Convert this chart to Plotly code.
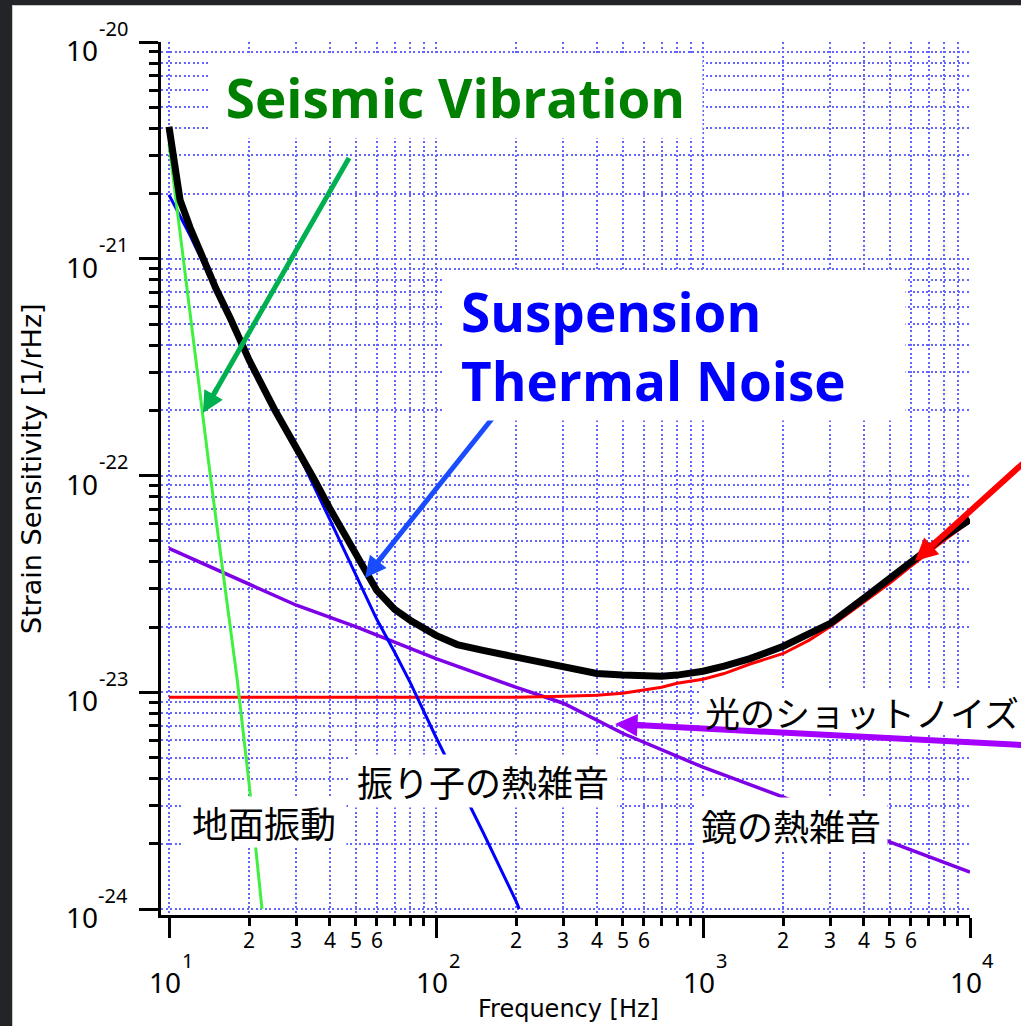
import math
import plotly.graph_objects as go

# ---- noise budget: frequency [Hz] vs strain sensitivity [1/rHz] ----
total_freq = [10, 10.5, 11, 12, 13, 15, 17, 20, 25, 30, 35, 40, 50, 60, 70, 80, 100, 120, 150,
              200, 250, 300, 400, 500, 600, 700, 800, 1000, 1200, 1500, 2000, 2500, 3000,
              4000, 5000, 6000, 7000, 8000, 10000]
total_asd = [4.06e-21, 2.57e-21, 1.87e-21, 1.39e-21, 1.10e-21, 7.27e-22, 5.29e-22, 3.39e-22,
             1.99e-22, 1.35e-22, 9.59e-23, 7.05e-23, 4.28e-23, 2.95e-23, 2.41e-23, 2.15e-23,
             1.83e-23, 1.66e-23, 1.56e-23, 1.45e-23, 1.36e-23, 1.29e-23, 1.22e-23, 1.20e-23,
             1.185e-23, 1.185e-23, 1.20e-23, 1.25e-23, 1.32e-23, 1.43e-23, 1.63e-23, 1.87e-23,
             2.08e-23, 2.71e-23, 3.32e-23, 3.97e-23, 4.61e-23, 5.23e-23, 6.27e-23]

shot_freq = [10, 20, 50, 100, 200, 300, 400, 500, 600, 700, 800, 1000, 1200, 1500, 2000,
             2500, 3000, 4000, 5000, 6000, 7000, 8000, 10000]
shot_asd = [9.48e-24, 9.48e-24, 9.48e-24, 9.48e-24, 9.48e-24, 9.59e-24, 9.69e-24, 9.89e-24,
            1.02e-23, 1.054e-23, 1.10e-23, 1.148e-23, 1.22e-23, 1.35e-23, 1.51e-23, 1.74e-23,
            2.01e-23, 2.60e-23, 3.18e-23, 3.81e-23, 4.42e-23, 5.02e-23, 6.14e-23]

susp_freq = [10, 12, 15, 20, 25, 30, 40, 50, 60, 70, 80, 100, 120, 150, 200, 205]
susp_asd = [1.97e-21, 1.28e-21, 7.20e-22, 3.46e-22, 2.01e-22, 1.32e-22, 6.27e-23, 3.50e-23,
            2.17e-23, 1.53e-23, 1.11e-23, 6.20e-24, 3.97e-24, 2.26e-24, 1.08e-24, 1.0e-24]

mirror_freq = [10, 20, 30, 50, 100, 200, 300, 500, 1000, 2000, 3000, 5000, 10000]
mirror_asd = [4.61e-23, 3.15e-23, 2.52e-23, 2.01e-23, 1.43e-23, 1.054e-23, 8.90e-24, 6.47e-24,
              4.51e-24, 3.28e-24, 2.68e-24, 2.04e-24, 1.48e-24]

seismic_freq = [10, 11, 12, 13, 14, 15, 16, 18, 20, 22.3]
seismic_asd = [3.39e-21, 1.30e-21, 5.46e-22, 2.49e-22, 1.21e-22, 6.27e-23, 3.42e-23,
               1.148e-23, 3.69e-24, 1.0e-24]

# ---- tick labels ----
x_decades = [1, 2, 3, 4]
x_minor_digits = [2, 3, 4, 5, 6]
y_decades = [-20, -21, -22, -23, -24]

x_title = "Frequency [Hz]"
y_title = "Strain Sensitivity [1/rHz]"

# ---- page geometry (pixels) ----
W, H = 1021, 1026
PL, PR, PT, PB = 161, 970, 42, 915
X_LO = 1 - 8 / 267.0       # axis line sits a few px left of 10^1
Y_LO = -24 - 6 / 217.0     # and a few px below 10^-24


def px(x):
    return (x - PL) / float(PR - PL)


def py(y):
    return (PB - y) / float(PB - PT)


GRID = "#6464ff"
DASH = "2px,2.5px"
TICK_FONT = "Noto Sans, DejaVu Sans, sans-serif"
JP_FONT = "Noto Sans CJK JP"
EN_FONT = "Open Sans, Lato, sans-serif"

fig = go.Figure()
for f, a, col, w in [
    (mirror_freq, mirror_asd, "#7d00e6", 3.5),
    (shot_freq, shot_asd, "#ff0000", 3),
    (susp_freq, susp_asd, "#0000ff", 3),
    (seismic_freq, seismic_asd, "#40f040", 3),
    (total_freq, total_asd, "#000000", 7),
]:
    fig.add_trace(go.Scatter(x=f, y=a, mode="lines", line=dict(color=col, width=w),
                             hoverinfo="skip", showlegend=False))

axis_common = dict(
    type="log", showline=True, linecolor="black", linewidth=3, mirror=False,
    ticks="outside", tickwidth=3, tickcolor="black",
    tickmode="linear", tick0=0, dtick=1, showticklabels=False,
    showgrid=True, gridcolor=GRID, griddash=DASH, gridwidth=2, zeroline=False,
)
fig.update_xaxes(range=[X_LO, 4], ticklen=20,
                 minor=dict(dtick="D1", ticks="outside", ticklen=8, tickwidth=3,
                            tickcolor="black", showgrid=True, gridcolor=GRID,
                            griddash=DASH, gridwidth=2),
                 **axis_common)
fig.update_yaxes(range=[Y_LO, -20], ticklen=19,
                 minor=dict(dtick="D1", ticks="outside", ticklen=9, tickwidth=3,
                            tickcolor="black", showgrid=True, gridcolor=GRID,
                            griddash=DASH, gridwidth=2),
                 **axis_common)


def txt(text, size, family=TICK_FONT, **kw):
    d = dict(text=text, showarrow=False, xanchor="center", yanchor="middle",
             font=dict(family=family, size=size, color="black"))
    d.update(kw)
    return d


ann = []
shapes = []

# decade labels: base "10" plus a raised exponent
for e in y_decades:
    ann.append(txt("10", 28, xref="paper", x=px(82), yref="y", y=e, yshift=-8))
    ann.append(txt(str(e), 20, xref="paper", x=px(113), yref="y", y=e, yshift=14))
for d in x_decades:
    ann.append(txt("10", 28, xref="x", x=d, xshift=-4, yref="paper", y=py(982)))
    ann.append(txt(str(d), 20, xref="x", x=d, xshift=18, yref="paper", y=py(960)))
for d in x_decades[:-1]:
    for m in x_minor_digits:
        ann.append(txt(str(m), 21, xref="x", x=d + math.log10(m), yref="paper", y=py(940)))

# axis titles
ann.append(txt(x_title, 24, family="DejaVu Sans", xref="paper", x=px(568),
               yref="paper", y=py(1009)))
ann.append(txt(y_title, 27, family="DejaVu Sans", xref="paper", x=px(31),
               yref="paper", y=py(469), textangle=-90))


def label(text, cx, cy, w, h, size, color, family, align="center", pad=0):
    return dict(text=text, xref="paper", x=px(cx), yref="paper", y=py(cy),
                xanchor="center", yanchor="middle", width=w - 2 * pad, height=h - 2 * pad,
                align=align, bgcolor="white", borderpad=pad, showarrow=False,
                font=dict(family=family, size=size, color=color))


ann.append(label("<b>Seismic Vibration</b>", 455, 97, 493, 82, 53, "#008000", EN_FONT))
ann.append(label("<b>Suspension<br>Thermal Noise</b>", 675, 346, 460, 148, 53, "#0000ff",
                 EN_FONT, align="left", pad=16))
ann.append(label("地面振動", 264, 822, 164, 50, 36, "black", JP_FONT))
ann.append(label("振り子の熱雑音", 483, 781, 268, 52, 36, "black", JP_FONT))
ann.append(label("鏡の熱雑音", 791, 824, 192, 53, 36, "black", JP_FONT))

# the shot-noise caption sits on a white patch that the violet arrow crosses
shapes.append(dict(type="rect", xref="paper", yref="paper", x0=px(700), x1=px(1030),
                   y0=py(734), y1=py(689), fillcolor="white", line=dict(width=0),
                   layer="above"))
ann.append(dict(text="光のショットノイズ", xref="paper", x=px(704), xanchor="left",
                yref="paper", y=py(711), yanchor="middle", borderpad=0,
                showarrow=False, font=dict(family=JP_FONT, size=35, color="black")))


def arrow(hx, hy, tx, ty, color, width=5, size=0.85):
    """Shaft as a shape (exact ends), head as a short annotation arrow."""
    dx, dy = tx - hx, ty - hy
    n = math.hypot(dx, dy)
    ux, uy = dx / n, dy / n
    sx, sy = hx + ux * 12, hy + uy * 12
    shapes.append(dict(type="line", xref="paper", yref="paper",
                       x0=px(sx), y0=py(sy), x1=px(tx), y1=py(ty),
                       line=dict(color=color, width=width), layer="above"))
    ann.append(dict(text="", xref="paper", x=px(hx), yref="paper", y=py(hy),
                    ax=ux * 30, ay=uy * 30, showarrow=True, arrowhead=2, arrowsize=size,
                    arrowwidth=width, arrowcolor=color, standoff=0, startstandoff=0))


arrow(203, 413, 349, 158, "#00b050")
arrow(365, 578, 495, 415, "#1a4cff")
arrow(915, 561, 1040, 448, "#ff0000", width=6, size=0.75)
arrow(615, 724, 1040, 746, "#a400ff", width=6, size=0.75)

# slide frame: dark strips on the left and top edges
shapes += [
    dict(type="rect", xref="paper", yref="paper", x0=px(-5), x1=px(12), y0=py(1030), y1=py(-5),
         fillcolor="#222427", line=dict(width=0), layer="above"),
    dict(type="rect", xref="paper", yref="paper", x0=px(-5), x1=px(1030), y0=py(5), y1=py(-5),
         fillcolor="#222427", line=dict(width=0), layer="above"),
    dict(type="line", xref="paper", yref="paper", x0=px(12.5), x1=px(12.5), y0=py(1030), y1=py(5),
         line=dict(color="#c8c8c8", width=1)),
    dict(type="line", xref="paper", yref="paper", x0=px(12), x1=px(1030), y0=py(5.5), y1=py(5.5),
         line=dict(color="#c8c8c8", width=1)),
]

fig.update_layout(
    width=W, height=H, autosize=False,
    margin=dict(l=PL, r=W - PR, t=PT, b=H - PB, pad=0),
    paper_bgcolor="white", plot_bgcolor="white",
    annotations=ann, shapes=shapes, showlegend=False, hovermode=False,
)

fig.write_html("out.html")
